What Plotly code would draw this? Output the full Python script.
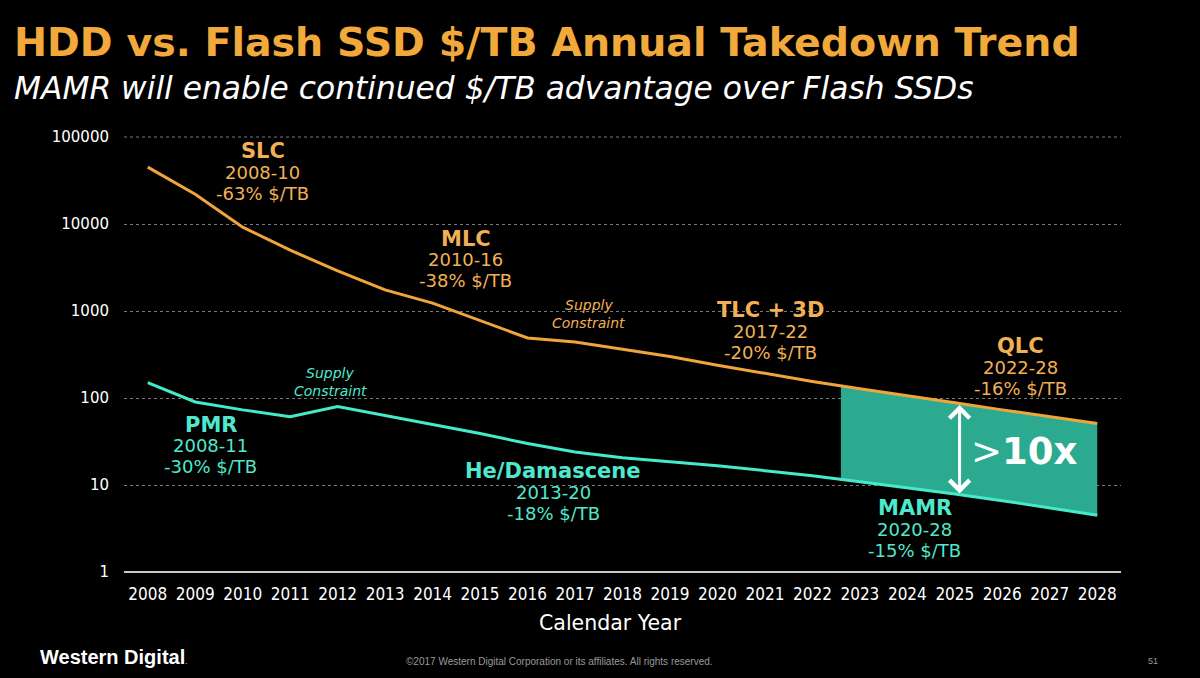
import numpy as np
import plotly.graph_objects as go

# ---------------- data ----------------
years = list(range(2008, 2029))
flash_ssd = [45000, 22000, 9200, 5000, 2900, 1750, 1230, 780, 490, 440,
             360, 300, 238, 192, 155, 128, 107, 88, 73, 61, 51]
hdd = [150, 90, 73, 61, 80, 63, 49, 39, 30, 24,
       20.6, 18.5, 16.6, 14.6, 12.8, 10.9, 9.3, 7.9, 6.6, 5.5, 4.5]
y_ticks = [1, 10, 100, 1000, 10000, 100000]
y_tick_text = ["1", "10", "100", "1000", "10000", "100000"]
gap_start_year = 2022.6   # where the shaded advantage band begins

ORANGE = "#F0A53A"
ORANGE_TXT = "#F2B055"
TEAL = "#45EACB"
TEAL_TXT = "#4FE8CC"
FILL = "#2BAA90"
FONT = "DejaVu Sans"
COND = "DejaVu Sans Condensed, DejaVu Sans"

fig = go.Figure()

# shaded band between the two curves (derived from the series)
lx = np.log10
band_x = [gap_start_year] + [y for y in years if y > gap_start_year]
top = [10 ** np.interp(x, years, lx(flash_ssd)) for x in band_x]
bot = [10 ** np.interp(x, years, lx(hdd)) for x in band_x]
fig.add_trace(go.Scatter(x=band_x + band_x[::-1], y=top + bot[::-1],
                         fill="toself", fillcolor=FILL, mode="none",
                         hoverinfo="skip", showlegend=False))

fig.add_trace(go.Scatter(x=years, y=flash_ssd, mode="lines",
                         line=dict(color=ORANGE, width=3), showlegend=False))
fig.add_trace(go.Scatter(x=years, y=hdd, mode="lines",
                         line=dict(color=TEAL, width=3), showlegend=False))

# ---------------- labels ----------------
labels = [
    ("SLC", "2008-10", "-63%", 2010.42, 39600, ORANGE_TXT),
    ("MLC", "2010-16", "-38%", 2014.70, 3860, ORANGE_TXT),
    ("TLC + 3D", "2017-22", "-20%", 2021.11, 589, ORANGE_TXT),
    ("QLC", "2022-28", "-16%", 2026.38, 227, ORANGE_TXT),
    ("PMR", "2008-11", "-30%", 2009.33, 28.1, TEAL_TXT),
    ("He/Damascene", "2013-20", "-18%", 2016.54, 8.3, TEAL_TXT),
    ("MAMR", "2020-28", "-15%", 2024.16, 3.12, TEAL_TXT),
]
for name, yt, pct, x, y, col in labels:
    for txt, shift, size in [(f"<b>{name}</b>", 21, 21), (yt, 0, 18),
                             (f"{pct} $/TB", -21, 18)]:
        fig.add_annotation(x=x, y=np.log10(y), xref="x", yref="y", yshift=shift,
                           text=txt, showarrow=False,
                           font=dict(family=FONT, size=size, color=col),
                           xanchor="center", yanchor="middle")

for x, y, col in [(2017.29, 924, ORANGE_TXT), (2011.84, 153, TEAL_TXT)]:
    for txt, shift in [("<i>Supply</i>", 9), ("<i>Constraint</i>", -9)]:
        fig.add_annotation(x=x, y=np.log10(y), xref="x", yref="y", yshift=shift,
                           text=txt, showarrow=False,
                           font=dict(family=FONT, size=14, color=col),
                           xanchor="center", yanchor="middle")

# double headed arrow
arrow_x = 2025.1
fig.add_annotation(x=arrow_x, y=np.log10(83), ax=arrow_x, ay=np.log10(7.7),
                   xref="x", yref="y", axref="x", ayref="y", text="",
                   showarrow=True, arrowhead=4, startarrowhead=4,
                   arrowside="end+start", arrowsize=1.3, startarrowsize=1.3,
                   arrowwidth=3, arrowcolor="white")
fig.add_annotation(x=2026.46, y=np.log10(24), xref="x", yref="y",
                   text="<span style='font-weight:normal'>&gt;</span><b>10x</b>",
                   showarrow=False, font=dict(family=FONT, size=37, color="white"),
                   xanchor="center", yanchor="middle")

# ---------------- titles and footer ----------------
fig.add_annotation(x=-0.1123, y=1.218, xref="paper", yref="paper",
                   text="<b>HDD vs. Flash SSD $/TB Annual Takedown Trend</b>",
                   showarrow=False, xanchor="left", yanchor="middle",
                   font=dict(family=FONT, size=39.5, color="#F2A93B"))
fig.add_annotation(x=-0.1123, y=1.113, xref="paper", yref="paper",
                   text="<i>MAMR will enable continued $/TB advantage over Flash SSDs</i>",
                   showarrow=False, xanchor="left", yanchor="middle",
                   font=dict(family=FONT, size=31.3, color="white"))
fig.add_annotation(x=0.488, y=-0.117, xref="paper", yref="paper",
                   text="Calendar Year", showarrow=False,
                   xanchor="center", yanchor="middle",
                   font=dict(family=FONT, size=20.5, color="white"))
fig.add_annotation(x=-0.0863, y=-0.195, xref="paper", yref="paper",
                   text="<b>Western Digital</b><span style='font-size:8px'>.</span>",
                   showarrow=False, xanchor="left", yanchor="middle",
                   font=dict(family="Liberation Sans", size=20, color="white"))
fig.add_annotation(x=0.437, y=-0.205, xref="paper", yref="paper",
                   text="©2017 Western Digital Corporation or its affiliates. All rights reserved.",
                   showarrow=False, xanchor="center", yanchor="middle",
                   font=dict(family="Liberation Sans", size=10, color="#9a9a9a"))
fig.add_annotation(x=1.032, y=-0.205, xref="paper", yref="paper",
                   text="51", showarrow=False, xanchor="center", yanchor="middle",
                   font=dict(family="Liberation Sans", size=9, color="#9a9a9a"))

# ---------------- axes / layout ----------------
fig.update_xaxes(range=[2007.5, 2028.5], tickmode="array", tickvals=years,
                 ticktext=[str(y) for y in years], showgrid=False,
                 zeroline=False, showline=False, ticks="", ticklabelstandoff=10,
                 tickfont=dict(family=COND, size=17, color="white"))
fig.update_yaxes(type="log", range=[0, 5], tickmode="array", tickvals=y_ticks,
                 ticktext=y_tick_text, showgrid=True, gridcolor="#7a7a7a",
                 griddash="dot", gridwidth=1, zeroline=False, showline=False,
                 ticks="", ticklabelstandoff=14,
                 tickfont=dict(family=FONT, size=15, color="white"))
# top gridline (range edge) and baseline at 1
fig.add_shape(type="line", xref="paper", yref="paper", x0=0, x1=1, y0=1, y1=1,
              line=dict(color="#7a7a7a", width=1, dash="dot"), layer="below")
fig.add_shape(type="line", xref="paper", yref="paper", x0=0, x1=1, y0=0, y1=0,
              line=dict(color="#C8C8C8", width=2), layer="above")

fig.update_layout(width=1200, height=678, paper_bgcolor="black",
                  plot_bgcolor="black",
                  margin=dict(l=124, r=79, t=137, b=106),
                  showlegend=False)

fig.write_html("out.html", config={"displayModeBar": False},
               post_script="document.body.style.margin='0';"
                           "document.body.style.overflow='hidden';"
                           "document.body.style.background='black';")
